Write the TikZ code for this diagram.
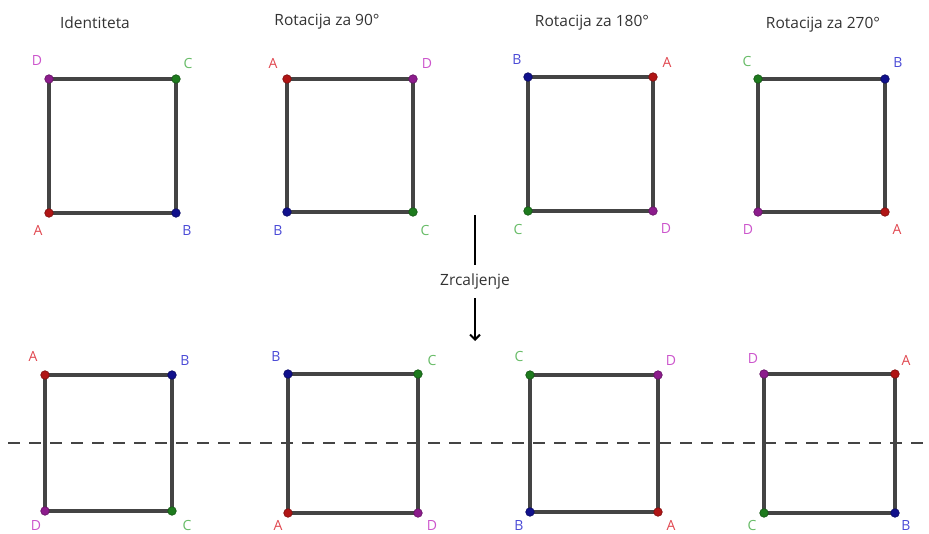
\documentclass[tikz,border=0pt]{standalone}
\usepackage{fontspec}
\setmainfont{Open Sans}
\usetikzlibrary{arrows.meta}
\definecolor{dA}{HTML}{B01515}
\definecolor{dB}{HTML}{10108C}
\definecolor{dC}{HTML}{1D7A1D}
\definecolor{dD}{HTML}{8C1C8C}
\definecolor{lA}{HTML}{E0464E}
\definecolor{lB}{HTML}{4A4AD6}
\definecolor{lC}{HTML}{66BB66}
\definecolor{lD}{HTML}{CC55CC}
\definecolor{edgegray}{HTML}{444444}
\pgfdeclarelayer{bg}
\pgfsetlayers{bg,main}
\tikzset{
  ptbase/.style={circle, inner sep=0pt, minimum size=8.5pt, line width=0.7pt},
  ptA/.style={ptbase, fill=dA, draw=dA!75!black},
  ptB/.style={ptbase, fill=dB, draw=dB!75!black},
  ptC/.style={ptbase, fill=dC, draw=dC!75!black},
  ptD/.style={ptbase, fill=dD, draw=dD!75!black},
  labbase/.style={font=\fontsize{14}{16}\selectfont, inner sep=0pt},
  labA/.style={labbase, text=lA},
  labB/.style={labbase, text=lB},
  labC/.style={labbase, text=lC},
  labD/.style={labbase, text=lD},
  sqedge/.style={draw=edgegray, line width=3.2pt},
  ttl/.style={font=\fontsize{15.5}{18}\selectfont, text=black!80, inner sep=0pt},
  mirror/.style={draw=edgegray, line width=2.8pt, dash pattern=on 12pt off 9pt},
  arr/.style={draw=black, line width=2.8pt}
}
\newcommand\vtx[4]{\node[pt#2] (#1) at (#3) {}; \node[lab#2] (#1l) at (#4) {#2};}
\newcommand\sqr[4]{\begin{pgfonlayer}{bg}\draw[sqedge] (#1.center)--(#2.center)--(#3.center)--(#4.center)--cycle;\end{pgfonlayer}}
\begin{document}
\begin{tikzpicture}[x=1pt,y=-1pt]
\useasboundingbox (0,0) rectangle (929,533);
% titles
\node[ttl] (t1) at (95,23) {Identiteta};
\node[ttl] (t2) at (327,22) {Rotacija za 90°};
\node[ttl] (t3) at (592,23) {Rotacija za 180°};
\node[ttl] (t4) at (823,25) {Rotacija za 270°};
% top row
\vtx{aD}{D}{49,79}{37,61}
\vtx{aC}{C}{176,79}{188,63}
\vtx{aA}{A}{49,213}{38,230}
\vtx{aB}{B}{176,213}{187,230}
\sqr{aA}{aB}{aC}{aD}
\vtx{bA}{A}{287,79}{273,63}
\vtx{bD}{D}{413,79}{427,64}
\vtx{bB}{B}{287,212}{278,230}
\vtx{bC}{C}{413,212}{425,230}
\sqr{bA}{bD}{bC}{bB}
\vtx{cB}{B}{528,77}{517,60}
\vtx{cA}{A}{653,77}{667,62}
\vtx{cC}{C}{528,211}{518,229}
\vtx{cD}{D}{653,211}{666,228}
\sqr{cB}{cA}{cD}{cC}
\vtx{dC}{C}{758,79}{747,61}
\vtx{dB}{B}{885,79}{898,63}
\vtx{dD}{D}{758,212}{748,229}
\vtx{dA}{A}{885,212}{897,229}
\sqr{dC}{dB}{dA}{dD}
% arrow
\coordinate (m1) at (475,215);
\coordinate (m2) at (475,265);
\node[ttl] (zr) at (475,281) {Zrcaljenje};
\coordinate (m3) at (475,298);
\coordinate (m4) at (475,341);
\draw[arr] (m1) -- (m2);
\draw[arr, -{Straight Barb[length=5pt,width=10pt,line width=2pt]}] (m3) -- (m4);
% bottom row
\vtx{eA}{A}{45,375}{33,356}
\vtx{eB}{B}{172,375}{185,360}
\vtx{eD}{D}{45,511}{36,525}
\vtx{eC}{C}{172,511}{187,525}
\sqr{eA}{eB}{eC}{eD}
\vtx{fB}{B}{288,374}{276,356}
\vtx{fC}{C}{418,374}{432,360}
\vtx{fA}{A}{288,513}{278,525}
\vtx{fD}{D}{418,513}{432,525}
\sqr{fB}{fC}{fD}{fA}
\vtx{gC}{C}{530,375}{519,356}
\vtx{gD}{D}{658,375}{671,360}
\vtx{gB}{B}{530,512}{519,525}
\vtx{gA}{A}{658,512}{671,525}
\sqr{gC}{gD}{gA}{gB}
\vtx{hD}{D}{764,374}{753,358}
\vtx{hA}{A}{895,374}{906,360}
\vtx{hC}{C}{764,513}{752,525}
\vtx{hB}{B}{895,513}{906,525}
\sqr{hD}{hA}{hB}{hC}
% mirror line
\coordinate (ml) at (8,443);
\coordinate (mr) at (929,443);
\draw[mirror] (ml) -- (mr);
\end{tikzpicture}
\end{document}
